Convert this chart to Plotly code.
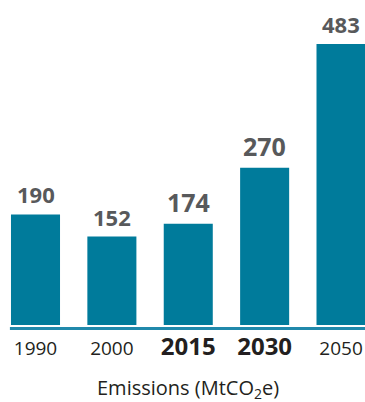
import plotly.graph_objects as go

years = ["1990", "2000", "2015", "2030", "2050"]
emissions = [190, 152, 174, 270, 483]
highlight_years = ["2015", "2030"]
axis_title = "Emissions (MtCO<sub>2</sub>e)"

BAR = "#007b9b"
LABEL_GRAY = "#58595b"
DARK = "#231f20"
FONT = "Open Sans"

px_per_unit = 0.582
plot_h = 332
zero_px = 325
y_lo = -(plot_h - zero_px) / px_per_unit
y_hi = zero_px / px_per_unit

ticktext = [
    f'<b><span style="font-size:24px">{y}</span></b>' if y in highlight_years else y
    for y in years
]

fig = go.Figure()
fig.add_trace(go.Bar(x=years, y=emissions, marker=dict(color=BAR, line=dict(width=0)),
                     hoverinfo="skip"))

for i, (y, v) in enumerate(zip(years, emissions)):
    big = y in highlight_years
    fig.add_annotation(x=i, y=v, xref="x", yref="y", text=f"<b>{v}</b>",
                       showarrow=False, yanchor="bottom", yshift=3,
                       font=dict(family=FONT, size=25 if big else 22, color=LABEL_GRAY))

fig.add_annotation(x=188 / 365, y=-(402 - plot_h) / plot_h, xref="paper", yref="paper",
                   text=axis_title, showarrow=False, xanchor="center", yanchor="bottom",
                   borderpad=0, yshift=-2,
                   font=dict(family=FONT, size=20, color=DARK))

fig.add_shape(type="line", xref="x", yref="y", x0=-0.335, x1=4.314,
              y0=-3.4 / px_per_unit, y1=-3.4 / px_per_unit,
              line=dict(color="#2089ab", width=3))

fig.update_layout(
    width=365, height=402,
    margin=dict(l=0, r=0, t=0, b=402 - plot_h),
    paper_bgcolor="white", plot_bgcolor="white",
    bargap=0.358, showlegend=False,
    font=dict(family=FONT, color=DARK),
    xaxis=dict(type="category", range=[-0.4648, 4.314], tickvals=years, ticktext=ticktext,
               tickfont=dict(family=FONT, size=19, color=DARK), showgrid=False,
               zeroline=False, showline=False, ticks="", ticklen=0, ticklabelstandoff=3),
    yaxis=dict(range=[y_lo, y_hi], visible=False, showgrid=False, zeroline=False),
)

fig.write_html("out.html", config={"displayModeBar": False},
               post_script="document.body.style.margin='0';")
